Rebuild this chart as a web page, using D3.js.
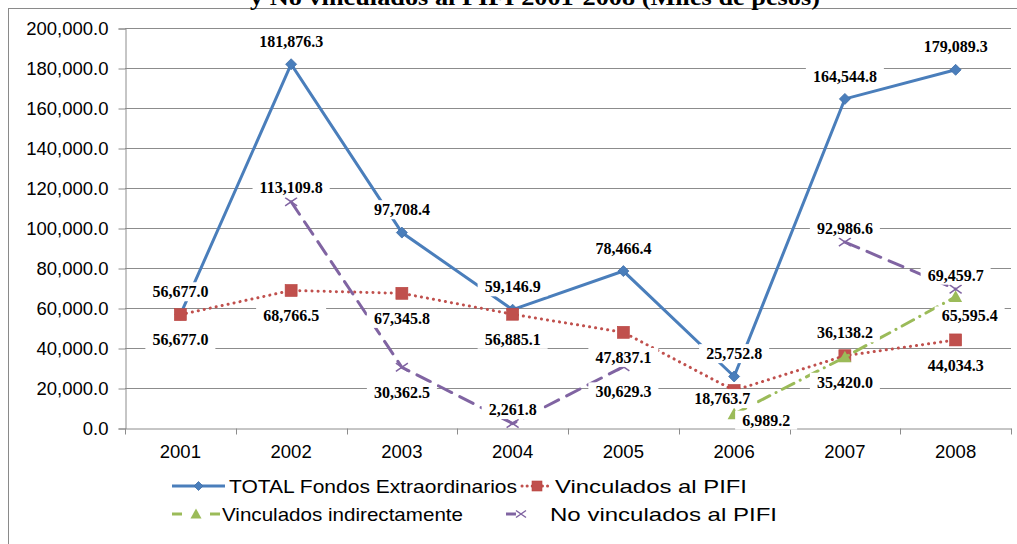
<!DOCTYPE html>
<html>
<head>
<meta charset="utf-8">
<script src="https://cdn.jsdelivr.net/npm/d3@7"></script>
<style>
  body { margin: 0; background: #fff; }
  svg { display: block; }
  .tick text { fill: #000; }
</style>
</head>
<body>
<svg id="chart" width="1017" height="544"></svg>
<script>
var years = ["2001", "2002", "2003", "2004", "2005", "2006", "2007", "2008"];
var totalFondos = [56677.0, 181876.3, 97708.4, 59146.9, 78466.4, 25752.8, 164544.8, 179089.3];
var vinculadosPifi = [56677.0, 68766.5, 67345.8, 56885.1, 47837.1, 18763.7, 36138.2, 44034.3];
var vinculadosIndirectos = [null, null, null, null, null, 6989.2, 35420.0, 65595.4];
var noVinculados = [null, 113109.8, 30362.5, 2261.8, 30629.3, null, 92986.6, 69459.7];
var yTicks = [0, 20000, 40000, 60000, 80000, 100000, 120000, 140000, 160000, 180000, 200000];

var series = [
    {name: "TOTAL Fondos Extraordinarios", values: totalFondos, color: "#4A7EBB", marker: "diamond",
     dash: null, labels: ["a", "a", "a", "a", "a", "a", "a", "a"]},
    {name: "Vinculados al PIFI", values: vinculadosPifi, color: "#C0504D", marker: "square",
     dash: "0.1 6", labels: ["b", "b", "b", "b", "b", "bl", "a", "b"]},
    {name: "Vinculados indirectamente", values: vinculadosIndirectos, color: "#9BBB59", marker: "triangle",
     dash: "13 7 0.1 7", labels: ["", "", "", "", "", "r", "b", "br"]},
    {name: "No vinculados al PIFI", values: noVinculados, color: "#8064A2", marker: "x",
     dash: "15 9", labels: ["", "n", "b", "n", "b", "", "n", "n"]}
];

var svg = d3.select("#chart");
var plotLeft = 125, plotRight = 1011, plotTop = 28, plotBottom = 428;

var x = d3.scaleBand().domain(years).range([plotLeft, plotRight]);
var y = d3.scaleLinear().domain([0, 200000]).range([plotBottom, plotTop]);
var cx = function(d) { return x(d) + x.bandwidth() / 2; };

// outer chart border (runs off the page)
svg.append("rect")
    .attr("x", 8.5).attr("y", 8.5)
    .attr("width", 1030).attr("height", 560)
    .attr("fill", "none").attr("stroke", "#8a8a8a");

// cut-off title
svg.append("text")
    .attr("x", 535).attr("y", 5)
    .attr("text-anchor", "middle")
    .attr("font-family", "Liberation Serif, Times New Roman, serif")
    .attr("font-weight", "bold")
    .attr("font-size", 23)
    .attr("textLength", 570)
    .attr("lengthAdjust", "spacingAndGlyphs")
    .text("y No vinculados al PIFI 2001-2008 (Miles de pesos)");

// gridlines
svg.append("g")
    .selectAll("line")
    .data(yTicks.slice(1))
    .join("line")
    .attr("x1", plotLeft).attr("x2", plotRight)
    .attr("y1", function(d) { return Math.round(y(d)) + 0.5; })
    .attr("y2", function(d) { return Math.round(y(d)) + 0.5; })
    .attr("stroke", "#8c8c8c");

// y axis
var yAxis = svg.append("g")
    .attr("transform", "translate(" + (plotLeft + 0.5) + ",0.5)")
    .call(d3.axisLeft(y).tickValues(yTicks).tickFormat(d3.format(",.1f")).tickSize(7).tickPadding(10));
yAxis.selectAll("text")
    .attr("font-family", "Liberation Sans, Arial, sans-serif")
    .attr("font-size", 18.5);
yAxis.selectAll("line, path").attr("stroke", "#8c8c8c");

// x axis
var xAxis = svg.append("g")
    .attr("transform", "translate(0," + (plotBottom + 0.5) + ")")
    .call(d3.axisBottom(x).tickSize(0).tickPadding(16).tickSizeOuter(0));
xAxis.selectAll("text")
    .attr("font-family", "Liberation Sans, Arial, sans-serif")
    .attr("font-size", 18.5);
xAxis.select("path").attr("stroke", "#8c8c8c");
xAxis.selectAll(".bound")
    .data(years.map(function(d) { return x(d); }).concat([plotRight]))
    .join("line")
    .attr("class", "bound")
    .attr("x1", function(d) { return Math.round(d) + 0.5; })
    .attr("x2", function(d) { return Math.round(d) + 0.5; })
    .attr("y1", 0).attr("y2", 6)
    .attr("stroke", "#8c8c8c");

function drawMarker(g, type, color, size) {
    var s = size / 2;
    if (type === "diamond") {
        g.append("path").attr("d", "M0," + (-s) + "L" + s + ",0L0," + s + "L" + (-s) + ",0Z")
            .attr("fill", color).attr("stroke", "#3f6fa8").attr("stroke-width", 0.8);
    } else if (type === "square") {
        g.append("rect").attr("x", -s).attr("y", -s).attr("width", size).attr("height", size)
            .attr("fill", color).attr("stroke", "#b8433f").attr("stroke-width", 0.6);
    } else if (type === "triangle") {
        g.append("path").attr("d", "M0," + (-s) + "L" + s + "," + (s * 0.8) + "L" + (-s) + "," + (s * 0.8) + "Z")
            .attr("fill", color);
    } else {
        g.append("path").attr("d", "M" + (-s) + "," + (-s * 0.7) + "L" + s + "," + (s * 0.7) +
                "M" + (-s) + "," + (s * 0.7) + "L" + s + "," + (-s * 0.7))
            .attr("fill", "none").attr("stroke", color).attr("stroke-width", 1.5);
    }
}

var markerSize = {diamond: 11, square: 12, triangle: 13, x: 12};

var line = d3.line()
    .defined(function(d) { return d[1] != null; })
    .x(function(d) { return cx(d[0]); })
    .y(function(d) { return y(d[1]); });

series.forEach(function(s) {
    var pts = years.map(function(yr, i) { return [yr, s.values[i]]; });
    svg.append("path")
        .datum(pts)
        .attr("d", line)
        .attr("fill", "none")
        .attr("stroke", s.color)
        .attr("stroke-width", 3)
        .attr("stroke-linecap", s.dash ? "round" : "butt")
        .attr("stroke-dasharray", s.dash);
    pts.forEach(function(p) {
        if (p[1] == null) return;
        var g = svg.append("g").attr("transform", "translate(" + cx(p[0]) + "," + y(p[1]) + ")");
        drawMarker(g, s.marker, s.color, markerSize[s.marker]);
    });
});

// data labels with white boxes
var offsets = {a: [0, -23], n: [0, -14], b: [0, 25], r: [32, 6], bl: [-12, 8], br: [14, 19]};
var fmt = d3.format(",.1f");
var labelLayer = svg.append("g");
series.forEach(function(s) {
    s.values.forEach(function(v, i) {
        if (v == null || !s.labels[i]) return;
        var o = offsets[s.labels[i]];
        var g = labelLayer.append("g")
            .attr("transform", "translate(" + (cx(years[i]) + o[0]) + "," + (y(v) + o[1]) + ")");
        var bg = g.append("rect").attr("fill", "#fff");
        var t = g.append("text")
            .attr("text-anchor", "middle")
            .attr("dy", "0.35em")
            .attr("font-family", "Liberation Serif, Times New Roman, serif")
            .attr("font-weight", "bold")
            .attr("font-size", 16)
            .text(fmt(v));
        var b = t.node().getBBox();
        bg.attr("x", b.x - 7).attr("y", b.y - 1).attr("width", b.width + 14).attr("height", b.height + 2);
    });
});

// legend
var legendPos = [
    {lx: 172, tx: 229, ty: 492, len: 288},
    {lx: 522, tx: 555, ty: 492, len: 192},
    {lx: 172, tx: 222, ty: 520, len: 241},
    {lx: 506, tx: 550, ty: 520, len: 227}
];
var legendLen = [53, 30, 48, 30];
var legendDash = [null, "0.1 5", "10 28 10", "10 30"];
series.forEach(function(s, i) {
    var p = legendPos[i];
    var g = svg.append("g");
    g.append("line")
        .attr("x1", p.lx).attr("x2", p.lx + legendLen[i])
        .attr("y1", p.ty - 6).attr("y2", p.ty - 6)
        .attr("stroke", s.color).attr("stroke-width", 3)
        .attr("stroke-linecap", i === 1 ? "round" : "butt")
        .attr("stroke-dasharray", legendDash[i]);
    var m = g.append("g").attr("transform", "translate(" + (p.lx + legendLen[i] / 2) + "," + (p.ty - 6) + ")");
    drawMarker(m, s.marker, s.color, markerSize[s.marker] - 2);
    g.append("text")
        .attr("x", p.tx).attr("y", p.ty + 1)
        .attr("font-family", "Liberation Sans, Arial, sans-serif")
        .attr("font-size", 19)
        .attr("textLength", p.len)
        .attr("lengthAdjust", "spacingAndGlyphs")
        .text(s.name);
});
</script>
</body>
</html>
